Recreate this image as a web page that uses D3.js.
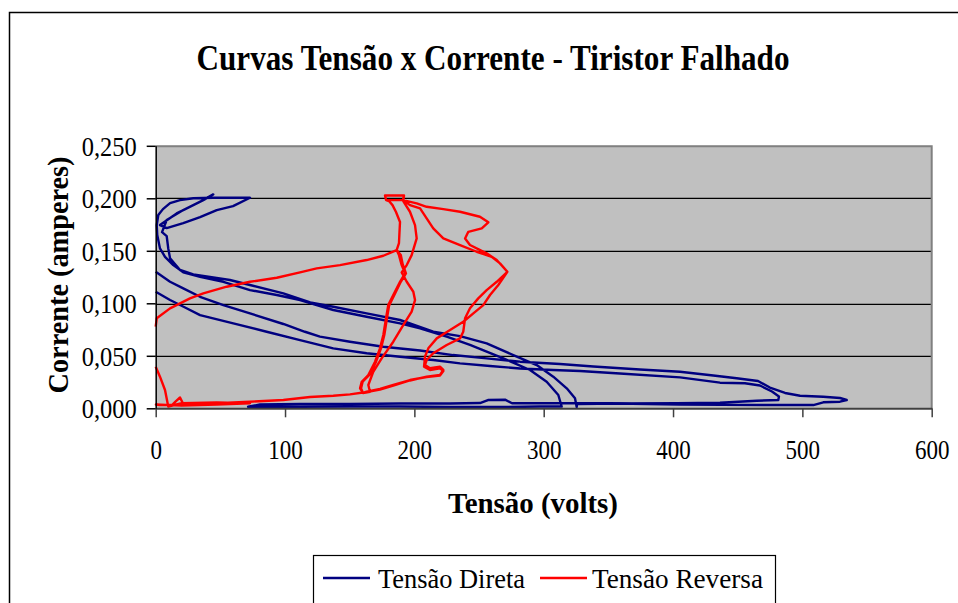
<!DOCTYPE html>
<html>
<head>
<meta charset="utf-8">
<script src="https://cdn.jsdelivr.net/npm/d3@7"></script>
<style>
  body { margin: 0; background: #fff; }
  text { font-family: "Liberation Serif", "Times New Roman", serif; fill: #000; }
</style>
</head>
<body>
<div class="chart"></div>
<script>
// eixo x (volts) e eixo y (amperes)
var xTicks = [0, 100, 200, 300, 400, 500, 600];
var yTicks = [0, 0.05, 0.10, 0.15, 0.20, 0.25];

// Tensão Direta - pontos na ordem da aquisição
var diretaTensao = [
  0, 11.1, 22.7, 34.3, 60.0, 85.8, 111.6, 137.3, 163.1, 188.9,
  214.6, 235.3, 258.5, 281.7, 307.2, 328.1, 358.9, 405.4, 436.3, 455.6,
  467.2, 476.5, 481.9, 481.4, 464.7, 436.3, 402.8, 358.9, 325.8,
  325.5, 324.2, 317.8, 307.4, 294.6, 276.5, 255.9, 235.3, 214.6, 188.9,
  163.1, 137.3, 119.5, 98.7, 72.9, 57.4, 29.1, 18.8, 11.1, 9.7,
  8.5, 4.9, 8.5, 21.3, 36.8, 44.5, 34.3, 16.2, 3.3, 8.5,
  21.3, 34.3, 47.2, 59.8, 72.9,
  57.4, 44.5, 29.1, 18.8, 11.1, 5.6, 2.0, 0.8, 1.2, 3.3,
  7.2, 13.6, 21.3, 34.3, 52.3, 72.9, 93.6, 111.6, 137.3, 163.1,
  188.9, 204.4, 225.0, 243.0, 268.8, 289.4, 302.3, 311.3, 313.9,
  297.1, 266.2, 227.6, 188.9, 150.2, 111.6, 71.4,
  80.6, 111.6, 150.2, 188.9, 227.6, 250.7, 256.9, 270.1, 275.5, 312.6,
  343.5, 405.4, 482.7, 508.5, 516.2, 529.1, 534.3,
  529.1, 516.2, 498.2, 486.6, 474.9, 465.7, 449.2, 431.1, 405.4, 374.4,
  338.4, 312.6, 281.7, 255.9, 229.9, 204.4, 176.0, 150.2, 127.0, 115.4,
  98.7, 72.9, 52.3, 34.3, 21.3, 11.1, 0
];
var diretaCorrente = [
  0.111, 0.1031, 0.096, 0.0888, 0.0809, 0.0729, 0.065, 0.0571, 0.0524, 0.0491,
  0.046, 0.0428, 0.0403, 0.0379, 0.0365, 0.0355, 0.0331, 0.0295, 0.0244, 0.0238,
  0.0217, 0.016, 0.0112, 0.0079, 0.0072, 0.0053, 0.0048, 0.0046, 0.0041,
  0.0012, 0.0095, 0.019, 0.0301, 0.0412, 0.0507, 0.0619, 0.0688, 0.0729, 0.0841,
  0.0904, 0.0967, 0.1009, 0.1095, 0.1174, 0.1222, 0.1276, 0.1317, 0.1428, 0.1523,
  0.164, 0.1678, 0.1793, 0.1888, 0.1983, 0.2037, 0.1967, 0.1856, 0.1745, 0.1716,
  0.1764, 0.1821, 0.1888, 0.1926, 0.2005,
  0.2005, 0.2005, 0.2, 0.1983, 0.1954, 0.1897, 0.184, 0.1745, 0.165, 0.1523,
  0.1443, 0.1364, 0.1295, 0.1253, 0.1205, 0.1126, 0.1079, 0.1031, 0.0936, 0.0872,
  0.0809, 0.0762, 0.0682, 0.0603, 0.0476, 0.0365, 0.0253, 0.0127, 0.0017,
  0.0017, 0.0012, 0.0012, 0.0017, 0.0017, 0.0015, 0.0015,
  0.0036, 0.0041, 0.0041, 0.0046, 0.0046, 0.005, 0.0079, 0.0082, 0.0048, 0.0048,
  0.0048, 0.0036, 0.0031, 0.0031, 0.0057, 0.0063, 0.0079,
  0.0098, 0.011, 0.012, 0.0146, 0.0198, 0.026, 0.0286, 0.0312, 0.0348, 0.0369,
  0.0398, 0.0422, 0.0444, 0.0476, 0.0507, 0.055, 0.0586, 0.0634, 0.0682, 0.0729,
  0.0803, 0.0904, 0.0983, 0.1062, 0.1142, 0.1205, 0.13
];

// Tensão Reversa
var reversaTensao = [
  0, 0.8, 11.1, 26.5, 36.8, 54.9, 72.9, 93.6, 111.6, 124.5,
  142.5, 163.1, 176.0, 186.3,
  188.1, 188.5, 188.9, 185.8, 183.1, 180.4, 178.1,
  177.3, 192.0, 191.2,
  201.8, 209.5, 222.4, 235.3, 250.7, 257.2, 252.1, 241.7, 239.2, 243.0,
  255.9, 263.7, 271.9,
  264.9, 258.5, 253.3, 245.6, 237.8, 227.6, 217.3, 210.8, 208.2, 207.5,
  212.1, 219.8, 222.4, 219.8,
  209.5, 196.6, 183.7, 173.4, 163.1, 160.3,
  158.0, 159.3, 164.4, 169.6, 173.4, 176.0, 178.1, 179.8, 183.7, 188.9,
  192.8, 190.2, 188.1, 186.3,
  189.5, 191.0, 193.5, 189.5, 184.5, 180.5, 178.8, 176.8, 174.2, 170.4,
  165.2, 160.0, 158.8, 160.3,
  165.7, 164.4, 168.2, 174.7, 183.7, 191.4, 197.9, 200.5, 199.2, 194.1,
  190.2, 194.1, 197.9, 201.8, 200.5, 196.6, 191.4, 192.0, 177.3, 178.1,
  191.2,
  196.6, 204.4, 209.5, 214.6, 222.4, 235.3, 248.2, 259.8, 266.2, 271.9,
  263.7, 255.9, 249.4, 243.0, 239.2, 237.8, 235.3, 225.0, 214.6, 209.5,
  208.2, 212.1, 219.8, 222.4, 219.8,
  209.5, 196.6, 183.7, 173.4, 163.1, 150.2, 137.3, 119.3, 98.7, 72.9,
  47.2, 21.3, 18.8, 15.7, 12.6, 3.3, 0.2, 20.0, 47.2, 72.9,
  47.2, 20.0, 9.7, 7.2, 3.3, 0
];
var reversaCorrente = [
  0.0777, 0.0857, 0.0952, 0.1047, 0.1095, 0.1158, 0.1205, 0.1243, 0.1295, 0.1333,
  0.1364, 0.1412, 0.1453, 0.1507,
  0.1574, 0.1678, 0.1774, 0.1869, 0.1935, 0.1974, 0.1983,
  0.2026, 0.2026, 0.1983,
  0.1952, 0.1919, 0.1897, 0.1872, 0.1824, 0.1771, 0.1714, 0.1681, 0.1618, 0.1555,
  0.1476, 0.1412, 0.13,
  0.1174, 0.1079, 0.0983, 0.0904, 0.0824, 0.0745, 0.0666, 0.0571, 0.0491, 0.0396,
  0.0365, 0.0381, 0.0355, 0.0312,
  0.0298, 0.0269, 0.0222, 0.0184, 0.0158, 0.0146,
  0.019, 0.0253, 0.0317, 0.0444, 0.0571, 0.0698, 0.0857, 0.0983, 0.1079, 0.1205,
  0.1285, 0.1364, 0.1459, 0.1507,
  0.1459, 0.137, 0.1285, 0.1205, 0.108, 0.098, 0.0857, 0.07, 0.057, 0.0444,
  0.0317, 0.0253, 0.019, 0.0146,
  0.0158, 0.0222, 0.0348, 0.0476, 0.0634, 0.0793, 0.092, 0.1031, 0.111, 0.1205,
  0.1295, 0.1364, 0.1459, 0.1618, 0.1745, 0.1872, 0.1974, 0.2026, 0.2026, 0.1983,
  0.1983,
  0.1935, 0.1904, 0.1809, 0.1714, 0.1618, 0.1555, 0.1491, 0.1443, 0.138, 0.13,
  0.1205, 0.1126, 0.1047, 0.0952, 0.0857, 0.0729, 0.0666, 0.0603, 0.0524, 0.046,
  0.0412, 0.0381, 0.0396, 0.0365, 0.0317,
  0.0301, 0.0265, 0.0217, 0.0179, 0.0155, 0.0133, 0.012, 0.0108, 0.0079, 0.0063,
  0.0048, 0.0041, 0.0103, 0.0069, 0.0031, 0.0031, 0.0036, 0.0025, 0.0036, 0.0048,
  0.0055, 0.0048, 0.0017, 0.0174, 0.0301, 0.0396
];

var seriesNames = ["Tensão Direta", "Tensão Reversa"];
var seriesColors = ["#000080", "#ff0000"];

var svgWidth = 958;
var svgHeight = 603;

var margin = { top: 145.8, right: 26.3, bottom: 194.7, left: 155.7 };
var width = svgWidth - margin.left - margin.right;
var height = svgHeight - margin.top - margin.bottom;

var svg = d3.select(".chart")
  .append("svg")
  .attr("width", svgWidth)
  .attr("height", svgHeight);

// moldura do gráfico
svg.append("rect")
  .attr("x", 9.5).attr("y", 12.5)
  .attr("width", 980).attr("height", 620)
  .attr("fill", "#fff")
  .attr("stroke", "#000")
  .attr("stroke-width", 1.5);

var chartGroup = svg.append("g")
  .attr("transform", `translate(${margin.left}, ${margin.top})`);

var xScale = d3.scaleLinear().domain([0, 600]).range([0, width]);
var yScale = d3.scaleLinear().domain([0, 0.25]).range([height, 0]);

chartGroup.append("rect")
  .attr("width", width)
  .attr("height", height)
  .attr("fill", "#c0c0c0");

// linhas de grade
chartGroup.selectAll(".grid")
  .data(yTicks.filter(d => d > 0 && d < 0.25))
  .enter()
  .append("line")
  .attr("x1", 0)
  .attr("x2", width)
  .attr("y1", d => Math.round(yScale(d)) + 0.5)
  .attr("y2", d => Math.round(yScale(d)) + 0.5)
  .attr("stroke", "#000")
  .attr("stroke-width", 1.2);

// borda da área de plotagem
chartGroup.append("path")
  .attr("d", `M0,0.5H${width}V${height}`)
  .attr("fill", "none")
  .attr("stroke", "#808080")
  .attr("stroke-width", 2);

var fmt = d3.format(".3f");

var line = d3.line()
  .x(d => xScale(d[0]))
  .y(d => yScale(d[1]));

var series = [
  d3.zip(diretaTensao, diretaCorrente),
  d3.zip(reversaTensao, reversaCorrente)
];

chartGroup.selectAll(".serie")
  .data(series)
  .enter()
  .append("path")
  .attr("class", "serie")
  .attr("d", line)
  .attr("fill", "none")
  .attr("stroke", (d, i) => seriesColors[i])
  .attr("stroke-width", 2.4)
  .attr("stroke-linejoin", "round");

var bottomAxis = d3.axisBottom(xScale)
  .tickValues(xTicks)
  .tickSize(9)
  .tickSizeOuter(0)
  .tickPadding(22)
  .tickFormat(d3.format("d"));

var leftAxis = d3.axisLeft(yScale)
  .tickValues(yTicks)
  .tickSize(9)
  .tickSizeOuter(0)
  .tickPadding(10)
  .tickFormat(d => fmt(d).replace(".", ","));

var xAxis = chartGroup.append("g")
  .attr("transform", `translate(0, ${height})`)
  .call(bottomAxis);

var yAxis = chartGroup.append("g")
  .call(leftAxis);

xAxis.select(".domain").attr("stroke", "#404040").attr("stroke-width", 2);
xAxis.selectAll(".tick line").attr("stroke", "#404040").attr("stroke-width", 1.5);
yAxis.select(".domain").attr("stroke", "#000").attr("stroke-width", 1.5);
yAxis.selectAll(".tick line").attr("stroke", "#000").attr("stroke-width", 1.5);

svg.selectAll(".tick text")
  .attr("fill", "#000")
  .style("font-family", "'Liberation Serif', 'Times New Roman', serif")
  .style("font-size", "28px")
  .attr("lengthAdjust", "spacingAndGlyphs");

yAxis.selectAll(".tick text")
  .attr("dy", "0.34em")
  .attr("textLength", 55);

xAxis.selectAll(".tick text")
  .attr("dy", "0.71em")
  .attr("textLength", d => String(d).length * 11.5);

// títulos
svg.append("text")
  .attr("x", 493)
  .attr("y", 70)
  .attr("text-anchor", "middle")
  .attr("font-weight", "bold")
  .attr("font-size", "35px")
  .attr("textLength", 593)
  .attr("lengthAdjust", "spacingAndGlyphs")
  .text("Curvas Tensão x Corrente - Tiristor Falhado");

svg.append("text")
  .attr("x", 533)
  .attr("y", 513)
  .attr("text-anchor", "middle")
  .attr("font-weight", "bold")
  .attr("font-size", "29px")
  .attr("textLength", 170)
  .attr("lengthAdjust", "spacingAndGlyphs")
  .text("Tensão (volts)");

svg.append("text")
  .attr("transform", "translate(68, 275) rotate(-90)")
  .attr("text-anchor", "middle")
  .attr("font-weight", "bold")
  .attr("font-size", "29px")
  .attr("textLength", 237)
  .attr("lengthAdjust", "spacingAndGlyphs")
  .text("Corrente (amperes)");

// legenda
var legend = svg.append("g");

legend.append("rect")
  .attr("x", 313.5)
  .attr("y", 555.5)
  .attr("width", 462)
  .attr("height", 70)
  .attr("fill", "#fff")
  .attr("stroke", "#000")
  .attr("stroke-width", 1.2);

var legendX = [323, 540];
var legendTextLength = [147, 171];
var legendItems = legend.selectAll(".item")
  .data(seriesNames)
  .enter()
  .append("g")
  .attr("transform", (d, i) => `translate(${legendX[i]}, 578)`);

legendItems.append("line")
  .attr("x1", 0)
  .attr("x2", 47)
  .attr("stroke", (d, i) => seriesColors[i])
  .attr("stroke-width", 2.5);

legendItems.append("text")
  .attr("x", (d, i) => i === 0 ? 55 : 52)
  .attr("dy", "0.34em")
  .attr("font-size", "28px")
  .attr("textLength", (d, i) => legendTextLength[i])
  .attr("lengthAdjust", "spacingAndGlyphs")
  .text(d => d);
</script>
</body>
</html>
